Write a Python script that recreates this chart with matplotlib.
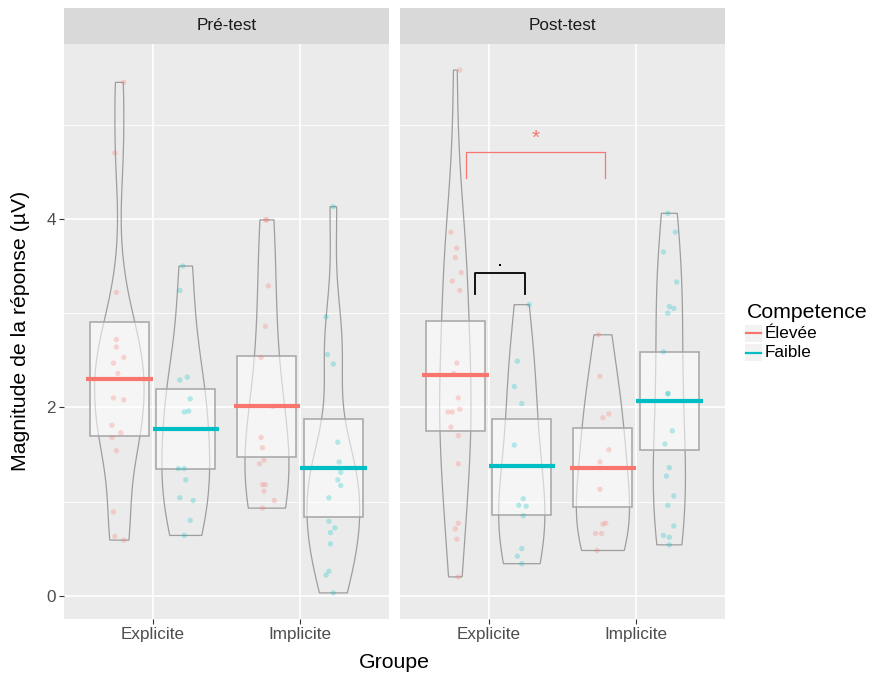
import numpy as np
import matplotlib
matplotlib.use("Agg")
import matplotlib.pyplot as plt
from matplotlib.patches import Rectangle, Polygon

plt.rcParams['font.family'] = ['Liberation Sans', 'DejaVu Sans']

# ---------------- data ----------------
tests = ['Pré-test', 'Post-test']
groups = ['Explicite', 'Implicite']
levels = ['Élevée', 'Faible']
level_colors = ['#F8766D', '#00BFC4']

pre_expl_high = [5.45, 4.70, 3.22, 2.72, 2.64, 2.53, 2.47, 2.36, 2.10, 2.08, 1.81, 1.73, 1.68, 1.54, 0.89, 0.63, 0.59]
pre_expl_high_jit = [0.03, -0.03, -0.02, -0.02, -0.02, 0.03, -0.04, -0.01, -0.04, 0.03, -0.05, 0.01, -0.05, -0.02, -0.04, -0.03, 0.03]
pre_expl_low = [3.50, 3.24, 2.32, 2.29, 2.09, 1.96, 1.95, 1.35, 1.35, 1.23, 1.04, 1.01, 0.80, 0.64]
pre_expl_low_jit = [-0.02, -0.04, 0.01, -0.04, 0.03, 0.02, -0.01, -0.05, -0.01, 0.00, -0.04, 0.05, 0.03, -0.01]
pre_impl_high = [3.99, 3.99, 3.29, 2.86, 2.53, 2.01, 1.68, 1.57, 1.44, 1.40, 1.18, 1.18, 1.11, 1.01, 0.93]
pre_impl_high_jit = [-0.01, 0.00, 0.01, -0.01, -0.04, 0.04, -0.04, -0.03, -0.02, -0.05, -0.03, -0.01, -0.02, 0.05, -0.03]
pre_impl_low = [4.13, 2.96, 2.56, 2.46, 1.63, 1.42, 1.31, 1.23, 1.17, 1.04, 0.79, 0.72, 0.67, 0.55, 0.26, 0.22, 0.03]
pre_impl_low_jit = [0.00, -0.05, -0.04, 0.00, 0.03, 0.04, 0.05, 0.03, 0.05, -0.03, -0.03, 0.01, -0.02, -0.02, -0.03, -0.05, 0.00]
post_expl_high = [5.58, 3.86, 3.69, 3.59, 3.43, 3.34, 3.24, 2.47, 2.36, 2.10, 1.98, 1.95, 1.95, 1.79, 1.70, 1.40, 0.77, 0.71, 0.60, 0.20]
post_expl_high_jit = [0.03, -0.03, 0.01, 0.00, 0.04, -0.02, 0.03, 0.01, -0.01, 0.02, 0.03, -0.05, -0.02, -0.03, 0.02, 0.02, 0.02, 0.00, 0.01, 0.02]
post_expl_low = [3.09, 2.49, 2.22, 2.04, 1.60, 1.03, 0.96, 0.95, 0.85, 0.50, 0.42, 0.34]
post_expl_low_jit = [0.05, -0.03, -0.05, 0.00, -0.05, 0.01, -0.02, 0.03, 0.01, 0.00, -0.03, 0.00]
post_impl_high = [2.77, 2.33, 1.93, 1.89, 1.55, 1.42, 1.13, 0.77, 0.76, 0.66, 0.66, 0.48]
post_impl_high_jit = [-0.03, -0.02, 0.04, 0.00, 0.04, -0.02, -0.02, 0.02, 0.00, -0.05, -0.01, -0.04]
post_impl_low = [4.06, 3.86, 3.65, 3.33, 3.07, 3.05, 3.00, 2.59, 2.15, 2.14, 1.75, 1.61, 1.36, 1.27, 1.06, 0.96, 0.74, 0.64, 0.62, 0.54]
post_impl_low_jit = [-0.01, 0.04, -0.04, 0.05, 0.00, 0.03, -0.01, -0.04, -0.01, -0.01, 0.02, -0.03, 0.00, -0.02, 0.03, -0.01, 0.03, -0.04, 0.00, 0.00]

# summary (mean, lower, upper) per test -> group -> level
pre_means = [[2.30, 1.77], [2.01, 1.36]]
pre_lower = [[1.70, 1.35], [1.47, 0.84]]
pre_upper = [[2.91, 2.19], [2.54, 1.88]]
post_means = [[2.34, 1.38], [1.36, 2.07]]
post_lower = [[1.75, 0.86], [0.94, 1.55]]
post_upper = [[2.92, 1.88], [1.78, 2.59]]

y_ticks = [0, 2, 4]

data = {
    0: [[(pre_expl_high, pre_expl_high_jit), (pre_expl_low, pre_expl_low_jit)],
        [(pre_impl_high, pre_impl_high_jit), (pre_impl_low, pre_impl_low_jit)]],
    1: [[(post_expl_high, post_expl_high_jit), (post_expl_low, post_expl_low_jit)],
        [(post_impl_high, post_impl_high_jit), (post_impl_low, post_impl_low_jit)]],
}
summ = {0: (pre_means, pre_lower, pre_upper), 1: (post_means, post_lower, post_upper)}

# ---------------- helpers ----------------
BW_ADJUST = 1.25

def kde(vals, grid):
    v = np.asarray(vals, float)
    n = len(v)
    sd = v.std(ddof=1)
    iqr = np.subtract(*np.percentile(v, [75, 25]))
    lo = min(sd, iqr / 1.34) if iqr > 0 else sd
    bw = 0.9 * lo * n ** (-0.2) * BW_ADJUST
    z = (grid[:, None] - v[None, :]) / bw
    return np.exp(-0.5 * z ** 2).sum(1) / (n * bw * np.sqrt(2 * np.pi))

dens = {}
gmax = 0
for t in (0, 1):
    for g in (0, 1):
        for l in (0, 1):
            vals = data[t][g][l][0]
            grid = np.linspace(min(vals), max(vals), 512)
            d = kde(vals, grid)
            dens[(t, g, l)] = (grid, d)
            gmax = max(gmax, d.max())

VIOLIN_MAX = 0.36
DODGE = 0.225

W, H = 872, 675
fig = plt.figure(figsize=(W / 100, H / 100), dpi=100)

def fx(px):
    return px / W

def fy(py):
    return 1 - py / H

panel_x = [(64, 388.7), (400, 724.7)]
p_top, p_bot, s_top = 44, 619, 8
ylim = (-0.247, 5.857)

axes = []
for t in (0, 1):
    x0, x1 = panel_x[t]
    ax = fig.add_axes([fx(x0), fy(p_bot), fx(x1 - x0), (p_bot - p_top) / H])
    axes.append(ax)
    ax.set_facecolor('#EBEBEB')
    ax.set_xlim(0.4, 2.6)
    ax.set_ylim(*ylim)
    for s in ax.spines.values():
        s.set_visible(False)
    for yv in [1, 3, 5]:
        ax.axhline(yv, color='white', lw=0.6, zorder=0.5)
    for yv in y_ticks:
        ax.axhline(yv, color='white', lw=1.2, zorder=0.6)
    for xv in [1, 2]:
        ax.axvline(xv, color='white', lw=1.2, zorder=0.6)
    ax.set_xticks([1, 2])
    ax.set_xticklabels(groups, fontsize=12.3, color='#4D4D4D')
    ax.set_yticks(y_ticks)
    ax.tick_params(axis='both', length=3.5, width=0.8, color='#333333', pad=2.5)
    if t == 0:
        ax.set_yticklabels([str(v) for v in y_ticks], fontsize=12.3, color='#4D4D4D')
    else:
        ax.set_yticklabels([])
        ax.tick_params(axis='y', length=0)

    means, lower, upper = summ[t]
    for g in (0, 1):
        for l in (0, 1):
            col = level_colors[l]
            cx = (g + 1) + (-DODGE if l == 0 else DODGE)
            grid, d = dens[(t, g, l)]
            hw = d / gmax * VIOLIN_MAX / 2
            xs = np.concatenate([cx - hw, (cx + hw)[::-1]])
            ys = np.concatenate([grid, grid[::-1]])
            ax.add_patch(Polygon(np.column_stack([xs, ys]), closed=True, fill=False,
                                 edgecolor='#9E9E9E', lw=0.9, zorder=2))
            ax.add_patch(Rectangle((cx - 0.2, lower[g][l]), 0.4, upper[g][l] - lower[g][l],
                                   facecolor='white', alpha=0.55, edgecolor='none', zorder=3))
            ax.add_patch(Rectangle((cx - 0.2, lower[g][l]), 0.4, upper[g][l] - lower[g][l],
                                   facecolor='none', edgecolor='#A5A5A5', lw=1.1, zorder=3.1))
            vals, jit = data[t][g][l]
            ax.scatter(cx + np.asarray(jit), vals, s=15, color=col, alpha=0.27,
                       edgecolors='none', zorder=4)
            xa = (g + 1) - 0.45 if l == 0 else (g + 1)
            ax.plot([xa, xa + 0.45], [means[g][l]] * 2, color=col, lw=3.0,
                    solid_capstyle='butt', zorder=5)

    sax = fig.add_axes([fx(x0), fy(p_top), fx(x1 - x0), (p_top - s_top) / H])
    sax.set_facecolor('#D9D9D9')
    sax.set_xticks([]); sax.set_yticks([])
    for s in sax.spines.values():
        s.set_visible(False)
    sax.text(0.5, 0.5, tests[t], ha='center', va='center', fontsize=12.3,
             color='#1A1A1A', transform=sax.transAxes)

# significance annotations in the post-test panel
ax2 = axes[1]
ax2.plot([0.85, 0.85, 1.79, 1.79], [4.43, 4.71, 4.71, 4.43], color='#F8766D', lw=0.9, zorder=6)
ax2.text(1.32, 4.86, '*', color='#F8766D', ha='center', va='center', fontsize=15, zorder=6)
ax2.plot([0.91, 0.91, 1.245, 1.245], [3.20, 3.43, 3.43, 3.20], color='black', lw=1.3, zorder=6)
ax2.plot([1.075], [3.51], marker='s', ms=1.7, mew=0, color='black', zorder=6)

# axis titles
fig.text(fx(394), fy(662), 'Groupe', ha='center', va='center', fontsize=15.3, color='black')
fig.text(fx(21), fy(331), 'Magnitude de la réponse (µV)', ha='center', va='center',
         rotation=90, fontsize=15.3, color='black')

# legend
fig.text(fx(747), fy(312), 'Competence', ha='left', va='center', fontsize=15.3, color='black')
for i, (lab, col) in enumerate(zip(levels, level_colors)):
    yc = 333 + i * 19.5
    fig.patches.append(Rectangle((fx(745), fy(yc + 8.5)), fx(17), 17 / H,
                                 transform=fig.transFigure, facecolor='#F2F2F2',
                                 edgecolor='none'))
    fig.add_artist(plt.Line2D([fx(746), fx(761)], [fy(yc), fy(yc)], color=col, lw=1.6,
                              transform=fig.transFigure))
    fig.text(fx(765), fy(yc), lab, ha='left', va='center', fontsize=12.3, color='black')

fig.savefig('out.png', dpi=100)
